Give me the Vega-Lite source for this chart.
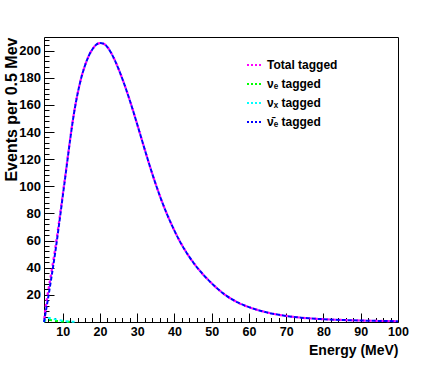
{
  "$schema": "https://vega.github.io/schema/vega-lite/v6.json",
  "width": 354,
  "height": 285,
  "autosize": {"type": "none"},
  "padding": {"left": 44, "top": 37, "right": 44, "bottom": 52},
  "background": "white",
  "config": {"view": {"stroke": "#000", "strokeWidth": 1}, "font": "Liberation Sans"},
  "datasets": {
    "blue": [
      {"E": 5, "v": 0}, {"E": 5.5, "v": 8}, {"E": 6, "v": 16}, {"E": 7, "v": 33}, {"E": 8, "v": 51},
      {"E": 9, "v": 71}, {"E": 10, "v": 92}, {"E": 11, "v": 113}, {"E": 12, "v": 134}, {"E": 13, "v": 153},
      {"E": 14, "v": 168}, {"E": 15, "v": 180}, {"E": 16, "v": 189}, {"E": 17, "v": 196}, {"E": 18, "v": 201},
      {"E": 19, "v": 204.3}, {"E": 20, "v": 205.5}, {"E": 21, "v": 205.0}, {"E": 22, "v": 202.6}, {"E": 23, "v": 198.4},
      {"E": 24, "v": 192.9}, {"E": 25, "v": 186.5}, {"E": 26, "v": 179.4}, {"E": 27, "v": 171.7}, {"E": 28, "v": 163.5},
      {"E": 29, "v": 154.8}, {"E": 30, "v": 145.8}, {"E": 31, "v": 136.6}, {"E": 32, "v": 127.4}, {"E": 33, "v": 118.4},
      {"E": 34, "v": 109.7}, {"E": 35, "v": 101.4}, {"E": 36, "v": 93.6}, {"E": 37, "v": 86.3}, {"E": 38, "v": 79.5},
      {"E": 39, "v": 73.2}, {"E": 40, "v": 67.3}, {"E": 41, "v": 61.8}, {"E": 42, "v": 56.8}, {"E": 43, "v": 52.2},
      {"E": 44, "v": 48.0}, {"E": 45, "v": 44.1}, {"E": 46, "v": 40.5}, {"E": 47, "v": 37.2}, {"E": 48, "v": 34.1},
      {"E": 49, "v": 31.2}, {"E": 50, "v": 28.5}, {"E": 51, "v": 25.9}, {"E": 52, "v": 23.5}, {"E": 53, "v": 21.3},
      {"E": 54, "v": 19.3}, {"E": 55, "v": 17.5}, {"E": 56, "v": 15.9}, {"E": 57, "v": 14.45}, {"E": 58, "v": 13.15},
      {"E": 59, "v": 12.0}, {"E": 60, "v": 10.95}, {"E": 62, "v": 9.1}, {"E": 64, "v": 7.6}, {"E": 66, "v": 6.3},
      {"E": 68, "v": 5.3}, {"E": 70, "v": 4.45}, {"E": 72, "v": 3.75}, {"E": 74, "v": 3.2}, {"E": 76, "v": 2.75},
      {"E": 78, "v": 2.35}, {"E": 80, "v": 2.05}, {"E": 85, "v": 1.5}, {"E": 90, "v": 1.1}, {"E": 95, "v": 0.8},
      {"E": 100, "v": 0.6}
    ],
    "total": [
      {"E": 5, "v": 0}, {"E": 5.5, "v": 12}, {"E": 6, "v": 20.6}, {"E": 7, "v": 36.9}, {"E": 8, "v": 53.9},
      {"E": 9, "v": 73}, {"E": 10, "v": 93.4}, {"E": 11, "v": 113.8}, {"E": 12, "v": 134.5}, {"E": 13, "v": 153.2},
      {"E": 14, "v": 168.1}, {"E": 15, "v": 180}, {"E": 16, "v": 189}, {"E": 17, "v": 196}, {"E": 18, "v": 201},
      {"E": 19, "v": 204.3}, {"E": 20, "v": 205.5}, {"E": 21, "v": 205.0}, {"E": 22, "v": 202.6}, {"E": 23, "v": 198.4},
      {"E": 24, "v": 192.9}, {"E": 25, "v": 186.5}, {"E": 26, "v": 179.4}, {"E": 27, "v": 171.7}, {"E": 28, "v": 163.5},
      {"E": 29, "v": 154.8}, {"E": 30, "v": 145.8}, {"E": 31, "v": 136.6}, {"E": 32, "v": 127.4}, {"E": 33, "v": 118.4},
      {"E": 34, "v": 109.7}, {"E": 35, "v": 101.4}, {"E": 36, "v": 93.6}, {"E": 37, "v": 86.3}, {"E": 38, "v": 79.5},
      {"E": 39, "v": 73.2}, {"E": 40, "v": 67.3}, {"E": 41, "v": 61.8}, {"E": 42, "v": 56.8}, {"E": 43, "v": 52.2},
      {"E": 44, "v": 48.0}, {"E": 45, "v": 44.1}, {"E": 46, "v": 40.5}, {"E": 47, "v": 37.2}, {"E": 48, "v": 34.1},
      {"E": 49, "v": 31.2}, {"E": 50, "v": 28.5}, {"E": 51, "v": 25.9}, {"E": 52, "v": 23.5}, {"E": 53, "v": 21.3},
      {"E": 54, "v": 19.3}, {"E": 55, "v": 17.5}, {"E": 56, "v": 15.9}, {"E": 57, "v": 14.45}, {"E": 58, "v": 13.15},
      {"E": 59, "v": 12.0}, {"E": 60, "v": 10.95}, {"E": 62, "v": 9.1}, {"E": 64, "v": 7.6}, {"E": 66, "v": 6.3},
      {"E": 68, "v": 5.3}, {"E": 70, "v": 4.45}, {"E": 72, "v": 3.75}, {"E": 74, "v": 3.2}, {"E": 76, "v": 2.75},
      {"E": 78, "v": 2.35}, {"E": 80, "v": 2.05}, {"E": 85, "v": 1.5}, {"E": 90, "v": 1.1}, {"E": 95, "v": 0.8},
      {"E": 100, "v": 0.6}
    ],
    "green": [
      {"E": 5, "v": 0}, {"E": 5.5, "v": 1.5}, {"E": 6, "v": 1.6}, {"E": 7, "v": 1.3}, {"E": 8, "v": 0.9},
      {"E": 9, "v": 0.6}, {"E": 10, "v": 0.35}, {"E": 11, "v": 0.2}, {"E": 12, "v": 0.1}
    ],
    "cyan": [
      {"E": 5, "v": 0}, {"E": 5.5, "v": 2.5}, {"E": 6, "v": 3}, {"E": 7, "v": 2.6}, {"E": 8, "v": 2},
      {"E": 9, "v": 1.4}, {"E": 10, "v": 1}, {"E": 11, "v": 0.6}, {"E": 12, "v": 0.35}, {"E": 13, "v": 0.2},
      {"E": 14, "v": 0.1}
    ]
  },
  "encoding": {
    "x": {
      "field": "E", "type": "quantitative",
      "scale": {"domain": [5, 100], "nice": false, "zero": false},
      "axis": {
        "values": [6,8,10,12,14,16,18,20,22,24,26,28,30,32,34,36,38,40,42,44,46,48,50,52,54,56,58,60,62,64,66,68,70,72,74,76,78,80,82,84,86,88,90,92,94,96,98,100],
        "labelExpr": "datum.value % 10 === 0 ? datum.label : ''",
        "tickSize": {"condition": {"test": "datum.value % 10 === 0", "value": -9}, "value": -4.5},
        "tickColor": "#000", "tickWidth": 1, "domain": false, "grid": false,
        "labelOverlap": false, "labelFlush": false, "labelBound": false,
        "labelFont": "Liberation Sans", "labelFontWeight": "bold", "labelFontSize": 12.5, "labelColor": "#000",
        "labelPadding": 12, "labelBaseline": "top",
        "title": "Energy (MeV)", "titleFont": "Liberation Sans", "titleFontWeight": "bold", "titleFontSize": 14,
        "titleColor": "#000", "titleX": 354, "titleY": 28, "titleAlign": "right", "titleBaseline": "middle", "titleAnchor": "end"
      }
    },
    "y": {
      "field": "v", "type": "quantitative",
      "scale": {"domain": [0, 210], "nice": false},
      "axis": {
        "values": [4,8,12,16,20,24,28,32,36,40,44,48,52,56,60,64,68,72,76,80,84,88,92,96,100,104,108,112,116,120,124,128,132,136,140,144,148,152,156,160,164,168,172,176,180,184,188,192,196,200,204,208],
        "labelExpr": "datum.value % 20 === 0 ? datum.label : ''",
        "tickSize": {"condition": {"test": "datum.value % 20 === 0", "value": -10}, "value": -5},
        "tickColor": "#000", "tickWidth": 1, "domain": false, "grid": false,
        "labelOverlap": false, "labelFlush": false, "labelBound": false,
        "labelFont": "Liberation Sans", "labelFontWeight": "bold", "labelFontSize": 13, "labelColor": "#000",
        "labelPadding": 13.5,
        "title": "Events per 0.5 Mev", "titleFont": "Liberation Sans", "titleFontWeight": "bold", "titleFontSize": 16,
        "titleColor": "#000", "titleX": -33, "titleY": 0, "titleAlign": "right", "titleBaseline": "middle", "titleAngle": -90, "titleAnchor": "end"
      }
    },
    "color": {
      "field": "s", "type": "nominal",
      "scale": {
        "domain": ["Total tagged", "νₑ tagged", "νₓ tagged", "ν̄ₑ tagged"],
        "range": ["#ff00ff", "#00ff00", "#00ffff", "#0000ff"]
      },
      "legend": {
        "orient": "none", "legendX": 202, "legendY": 19.5, "title": null,
        "symbolType": "stroke", "symbolSize": 225, "symbolStrokeWidth": 2, "symbolDash": [2, 2],
        "labelFont": "Liberation Sans", "labelFontWeight": "bold", "labelFontSize": 12, "labelColor": "#000",
        "rowPadding": 4, "padding": 0, "labelOffset": 4
      }
    }
  },
  "layer": [
    {
      "data": {"name": "total"},
      "transform": [{"calculate": "'Total tagged'", "as": "s"}],
      "mark": {"type": "line", "strokeWidth": 2.2, "strokeDash": [3, 3], "strokeDashOffset": 3, "interpolate": "monotone"}
    },
    {
      "data": {"name": "green"},
      "transform": [{"calculate": "'νₑ tagged'", "as": "s"}],
      "mark": {"type": "line", "strokeWidth": 2, "strokeDash": [3, 3], "interpolate": "monotone"}
    },
    {
      "data": {"name": "cyan"},
      "transform": [{"calculate": "'νₓ tagged'", "as": "s"}],
      "mark": {"type": "line", "strokeWidth": 2, "strokeDash": [3, 3], "interpolate": "monotone"}
    },
    {
      "data": {"name": "blue"},
      "transform": [{"calculate": "'ν̄ₑ tagged'", "as": "s"}],
      "mark": {"type": "line", "strokeWidth": 2, "strokeDash": [4, 2], "interpolate": "monotone"}
    }
  ]
}
